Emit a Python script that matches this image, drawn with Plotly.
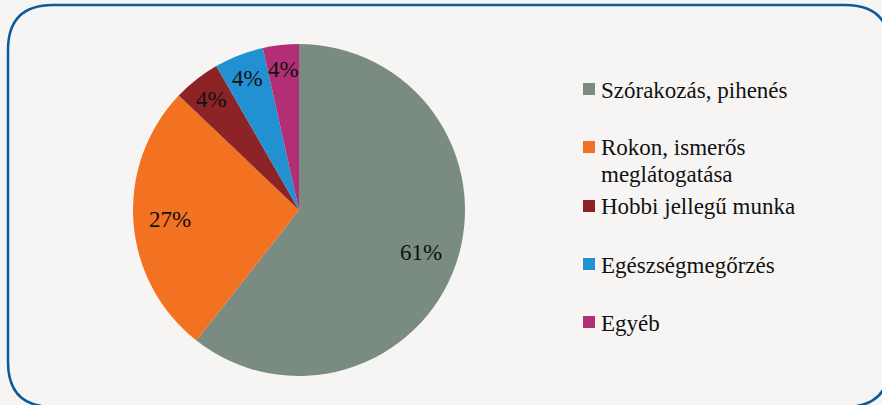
import math
import plotly.graph_objects as go

categories = ["Szórakozás, pihenés", "Rokon, ismerős<br>meglátogatása",
              "Hobbi jellegű munka", "Egészségmegőrzés", "Egyéb"]
shares = [60.6, 26.5, 4.6, 4.8, 3.5]
pct_labels = ["61%", "27%", "4%", "4%", "4%"]
colors = ["#7A8B82", "#F37222", "#8C2326", "#2191D1", "#B22F76"]

W, H = 882, 405
FONT = "Liberation Serif"
FS = 23

# pie centre / radius in pixels
CX, CY, R = 299, 210, 166


def px(x):
    return x / W


def py(y):
    return 1 - y / H


fig = go.Figure()
fig.add_trace(go.Pie(
    labels=categories,
    values=shares,
    textinfo="none",
    sort=False,
    direction="clockwise",
    rotation=0,
    marker=dict(colors=colors, line=dict(width=0)),
    domain=dict(x=[px(CX - R), px(CX + R)], y=[py(CY + R), py(CY - R)]),
    showlegend=False,
    hoverinfo="label+percent",
))

annotations = []
# data labels placed along each slice's mid angle
total = sum(shares)
acc = 0
for v, lab in zip(shares, pct_labels):
    mid = (acc + v / 2) / total * 2 * math.pi
    acc += v
    f = 0.78 if v / total > 0.1 else 0.85
    lx = CX + f * R * math.sin(mid)
    ly = CY - f * R * math.cos(mid)
    annotations.append(dict(x=px(lx), y=py(ly), xref="paper", yref="paper",
                            text=lab, showarrow=False,
                            xanchor="center", yanchor="middle",
                            font=dict(family=FONT, size=FS, color="#111111")))

# rounded frame
x0, x1, y0, y1, r = 8, 890, 5, 407, 45
path = (f"M {px(x0 + r)},{py(y0)} L {px(x1 - r)},{py(y0)} "
        f"Q {px(x1)},{py(y0)} {px(x1)},{py(y0 + r)} "
        f"L {px(x1)},{py(y1 - r)} Q {px(x1)},{py(y1)} {px(x1 - r)},{py(y1)} "
        f"L {px(x0 + r)},{py(y1)} Q {px(x0)},{py(y1)} {px(x0)},{py(y1 - r)} "
        f"L {px(x0)},{py(y0 + r)} Q {px(x0)},{py(y0)} {px(x0 + r)},{py(y0)} Z")
shapes = [dict(type="path", xref="paper", yref="paper", path=path,
               line=dict(color="#0A5A9C", width=2.5), layer="below")]

# legend drawn by hand to keep the original spacing
legend_y = [89, 147, 206, 264, 322]
line_gap = 27
for name, col, yc in zip(categories, colors, legend_y):
    shapes.append(dict(type="rect", xref="paper", yref="paper",
                       x0=px(583), x1=px(595), y0=py(yc + 6), y1=py(yc - 6),
                       fillcolor=col, line=dict(width=0)))
    for i, part in enumerate(name.split("<br>")):
        annotations.append(dict(x=px(599), y=py(yc + 1 + i * line_gap),
                                xref="paper", yref="paper",
                                text=part, showarrow=False, xanchor="left",
                                yanchor="middle", align="left",
                                font=dict(family=FONT, size=FS, color="#111111")))

fig.update_layout(
    width=W, height=H,
    margin=dict(l=0, r=0, t=0, b=0),
    paper_bgcolor="#F7F5F3",
    plot_bgcolor="#F7F5F3",
    font=dict(family=FONT),
    shapes=shapes,
    annotations=annotations,
    showlegend=False,
)

fig.write_html("out.html", config={"displayModeBar": False},
               post_script="document.body.style.margin='0';"
                           "document.body.style.background='#F7F5F3';")
